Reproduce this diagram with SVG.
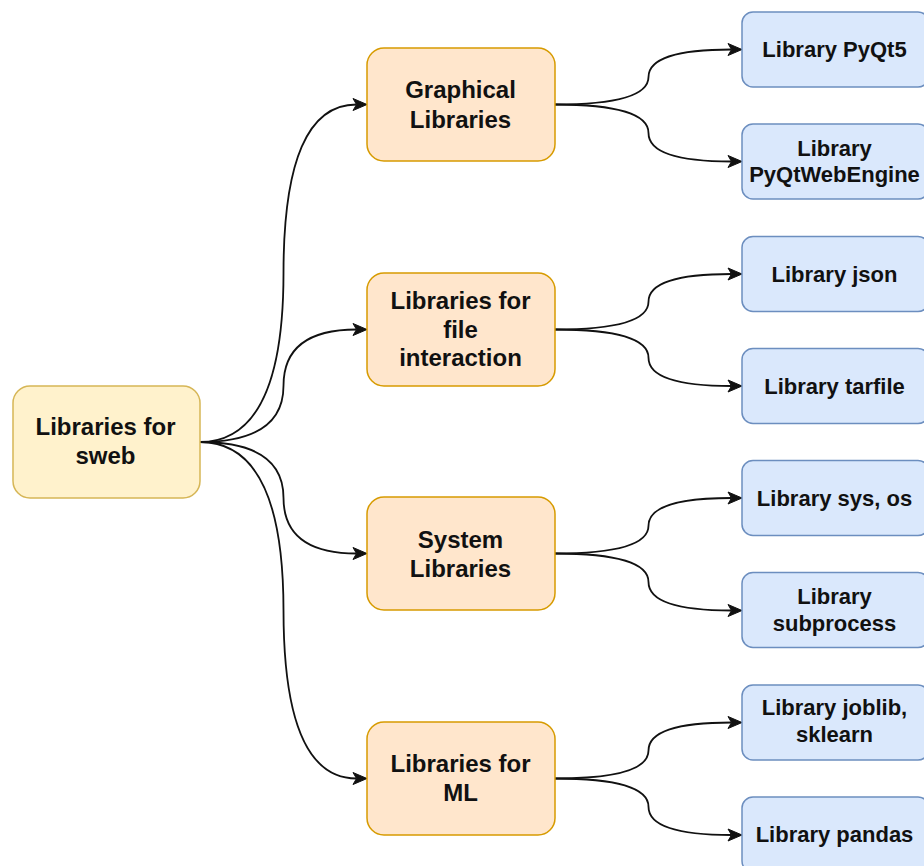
<svg xmlns="http://www.w3.org/2000/svg" width="924" height="866" viewBox="0 0 924 866">
  <style>
    .root rect { fill: #fff2cc; stroke: #d6b656; stroke-width: 1.5; }
    .mid rect { fill: #ffe6cc; stroke: #d79b00; stroke-width: 1.5; }
    .leaf rect { fill: #dae8fc; stroke: #6c8ebf; stroke-width: 1.5; }
    text { font-family: "Liberation Sans", Arial, Helvetica, sans-serif; font-weight: bold; fill: #111; text-anchor: middle; }
    .root text, .mid text { font-size: 24px; }
    .leaf text { font-size: 22px; }
    #connectors path { fill: none; stroke: #111; stroke-width: 1.8; marker-end: url(#arrow); }
  </style>
  <defs>
    <marker id="arrow" markerUnits="userSpaceOnUse" viewBox="-1 -7 16 14" markerWidth="16" markerHeight="14" refX="3.5" refY="0" orient="auto" overflow="visible">
      <path d="M14,0 L0,-6 L3.5,0 L0,6 Z" fill="#111" stroke="#111" stroke-width="1" stroke-linejoin="miter"/>
    </marker>
  </defs>

  <!-- connectors: curved orthogonal routes (quadratic corners) -->
  <g id="connectors">
    <!-- root to categories -->
    <path d="M200,442 Q283.5,442 283.5,273.25 Q283.5,104.5 356.5,104.5"/>
    <path d="M200,442 Q283.5,442 283.5,385.75 Q283.5,329.5 356.5,329.5"/>
    <path d="M200,442 Q283.5,442 283.5,497.75 Q283.5,553.5 356.5,553.5"/>
    <path d="M200,442 Q283.5,442 283.5,610.25 Q283.5,778.5 356.5,778.5"/>
    <!-- categories to libraries -->
    <path d="M555,104.5 Q648.5,104.5 648.5,77 Q648.5,49.5 731.5,49.5"/>
    <path d="M555,104.5 Q648.5,104.5 648.5,133 Q648.5,161.5 731.5,161.5"/>
    <path d="M555,329.5 Q648.5,329.5 648.5,301.75 Q648.5,274 731.5,274"/>
    <path d="M555,329.5 Q648.5,329.5 648.5,357.75 Q648.5,386 731.5,386"/>
    <path d="M555,553.5 Q648.5,553.5 648.5,525.75 Q648.5,498 731.5,498"/>
    <path d="M555,553.5 Q648.5,553.5 648.5,582 Q648.5,610.5 731.5,610.5"/>
    <path d="M555,778.5 Q648.5,778.5 648.5,750.5 Q648.5,722.5 731.5,722.5"/>
    <path d="M555,778.5 Q648.5,778.5 648.5,806.75 Q648.5,835 731.5,835"/>
  </g>

  <!-- root -->
  <g id="node-root" class="root">
    <rect x="13" y="386" width="187" height="112" rx="17" ry="17"/>
    <text x="105.5" y="435">Libraries for</text>
    <text x="105.5" y="464">sweb</text>
  </g>

  <!-- categories -->
  <g id="node-graphical" class="mid">
    <rect x="367" y="48" width="188" height="113" rx="17" ry="17"/>
    <text x="460.5" y="98">Graphical</text>
    <text x="460.5" y="127.5">Libraries</text>
  </g>
  <g id="node-file" class="mid">
    <rect x="367" y="273" width="188" height="113" rx="17" ry="17"/>
    <text x="460.5" y="308.5">Libraries for</text>
    <text x="460.5" y="337.5">file</text>
    <text x="460.5" y="366">interaction</text>
  </g>
  <g id="node-system" class="mid">
    <rect x="367" y="497" width="188" height="113" rx="17" ry="17"/>
    <text x="460.5" y="547.5">System</text>
    <text x="460.5" y="577">Libraries</text>
  </g>
  <g id="node-ml" class="mid">
    <rect x="367" y="722" width="188" height="113" rx="17" ry="17"/>
    <text x="460.5" y="771.5">Libraries for</text>
    <text x="460.5" y="801">ML</text>
  </g>

  <!-- libraries -->
  <g id="node-pyqt5" class="leaf">
    <rect x="742" y="12" width="187" height="75" rx="11" ry="11"/>
    <text x="834.5" y="57">Library PyQt5</text>
  </g>
  <g id="node-pyqtwebengine" class="leaf">
    <rect x="742" y="124" width="187" height="75" rx="11" ry="11"/>
    <text x="834.5" y="155.5">Library</text>
    <text x="834.5" y="182">PyQtWebEngine</text>
  </g>
  <g id="node-json" class="leaf">
    <rect x="742" y="236.5" width="187" height="75" rx="11" ry="11"/>
    <text x="834.5" y="281.5">Library json</text>
  </g>
  <g id="node-tarfile" class="leaf">
    <rect x="742" y="348.5" width="187" height="75" rx="11" ry="11"/>
    <text x="834.5" y="393.5">Library tarfile</text>
  </g>
  <g id="node-sys-os" class="leaf">
    <rect x="742" y="460.5" width="187" height="75" rx="11" ry="11"/>
    <text x="834.5" y="505.5">Library sys, os</text>
  </g>
  <g id="node-subprocess" class="leaf">
    <rect x="742" y="572.5" width="187" height="75" rx="11" ry="11"/>
    <text x="834.5" y="604">Library</text>
    <text x="834.5" y="631">subprocess</text>
  </g>
  <g id="node-joblib" class="leaf">
    <rect x="742" y="685" width="187" height="75" rx="11" ry="11"/>
    <text x="834.5" y="714.5">Library joblib,</text>
    <text x="834.5" y="742">sklearn</text>
  </g>
  <g id="node-pandas" class="leaf">
    <rect x="742" y="797" width="187" height="75" rx="11" ry="11"/>
    <text x="834.5" y="842">Library pandas</text>
  </g>
</svg>
